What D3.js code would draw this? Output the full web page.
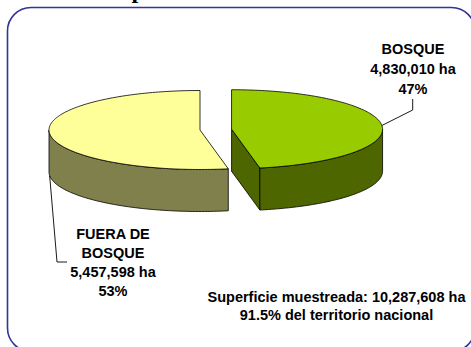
<!DOCTYPE html>
<html><head><meta charset="utf-8">
<script src="https://cdn.jsdelivr.net/npm/d3@7"></script>
<style>
html,body{margin:0;padding:0;background:#fff;}
svg{display:block}
text{font-family:"Liberation Sans",Arial,sans-serif;font-weight:bold;font-size:14.5px;fill:#000}
</style>
</head><body>
<svg id="chart" width="471" height="347"></svg>
<script>
// Land-cover split of the sampled surface
const categories = ["BOSQUE", "FUERA DE BOSQUE"];
const areasHa = ["4,830,010 ha", "5,457,598 ha"];
const shares = [47, 53];
const topColors = ["#99CC00", "#FFFF99"];
const sideColors = ["#4D6600", "#80804D"];
const explodeBy = [0.21, 0];
const footnote = ["Superficie muestreada: 10,287,608 ha", "91.5% del territorio nacional"];

const svg = d3.select("#chart");

// rounded frame
svg.append("rect")
  .attr("x", 7.5).attr("y", 7.5).attr("width", 467.5).attr("height", 344)
  .attr("rx", 23.5).attr("ry", 23.5)
  .attr("fill", "none").attr("stroke", "#333399").attr("stroke-width", 1.6);

// clipped title above the frame
svg.append("text").attr("x", 131.5).attr("y", -2)
  .style("font-family", "'Liberation Serif','Times New Roman',serif")
  .style("font-size", "24px").text("p");

// 3D pie geometry
const cx = 200, cy = 130, rx = 151, ry = 39.5, depth = 42;
const pie = d3.pie().sort(null).value(d => d).startAngle(0).endAngle(2 * Math.PI);
const arcs = pie(shares).map((a, i) => {
  const mid = (a.startAngle + a.endAngle) / 2;
  return {
    ...a, i, mid,
    c: [cx + explodeBy[i] * rx * Math.sin(mid), cy - explodeBy[i] * ry * Math.cos(mid)]
  };
});

const pt = (c, t, dz = 0) => [c[0] + rx * Math.sin(t), c[1] - ry * Math.cos(t) + dz];
const arcPts = (c, a, b, dz = 0) => {
  const n = Math.max(2, Math.ceil(Math.abs(b - a) / 0.02));
  return d3.range(n + 1).map(k => pt(c, a + (b - a) * k / n, dz));
};
const line = d3.line();

const sides = svg.append("g"), tops = svg.append("g");

arcs.forEach(d => {
  const a = d.startAngle, b = d.endAngle;
  // radial cut faces
  [[a, a - Math.PI / 2], [b, b + Math.PI / 2]].forEach(([t, n]) => {
    if (Math.cos(n) < -1e-6) {
      const p = pt(d.c, t);
      const face = [d.c, p, [p[0], p[1] + depth], [d.c[0], d.c[1] + depth]];
      sides.append("path").attr("d", line(face) + "Z")
        .attr("fill", sideColors[d.i]).attr("stroke", "#000").attr("stroke-width", 0.8)
        .attr("stroke-linejoin", "round");
    }
  });
  // outer wall, front half only
  const w0 = Math.max(a, Math.PI / 2), w1 = Math.min(b, 3 * Math.PI / 2);
  if (w1 > w0) {
    const topEdge = arcPts(d.c, w0, w1);
    const botEdge = arcPts(d.c, w0, w1, depth).reverse();
    sides.append("path").attr("d", line(topEdge.concat(botEdge)) + "Z")
      .attr("fill", sideColors[d.i]).attr("stroke", "#000").attr("stroke-width", 0.8)
      .attr("stroke-linejoin", "round");
  }
  // top face
  tops.append("path").attr("d", line([d.c].concat(arcPts(d.c, a, b))) + "Z")
    .attr("fill", topColors[d.i]).attr("stroke", "#000").attr("stroke-width", 0.8)
    .attr("stroke-linejoin", "round");
});

// leader lines from slice bisectors
const g0 = arcs[0], g1 = arcs[1];
const s0 = pt(g0.c, g0.mid);
svg.append("path").attr("d", line([s0, [412.7, 110], [412.7, 99]]))
  .attr("fill", "none").attr("stroke", "#000").attr("stroke-width", 0.9);
const s1 = pt(g1.c, g1.mid, depth);
svg.append("path").attr("d", line([s1, [57, 262], [67, 262]]))
  .attr("fill", "none").attr("stroke", "#000").attr("stroke-width", 0.9);

// labels
const addLines = (x, y0, dy, lines) => {
  const t = svg.append("text").attr("text-anchor", "middle");
  lines.forEach((s, k) => t.append("tspan").attr("x", x).attr("y", y0 + k * dy).text(s));
};
addLines(413, 54, 19.8, [categories[0], areasHa[0], shares[0] + "%"]);
addLines(113, 238.5, 19.2, ["FUERA DE", "BOSQUE", areasHa[1], shares[1] + "%"]);
addLines(336.5, 301.5, 18.8, footnote);
</script>
</body></html>
